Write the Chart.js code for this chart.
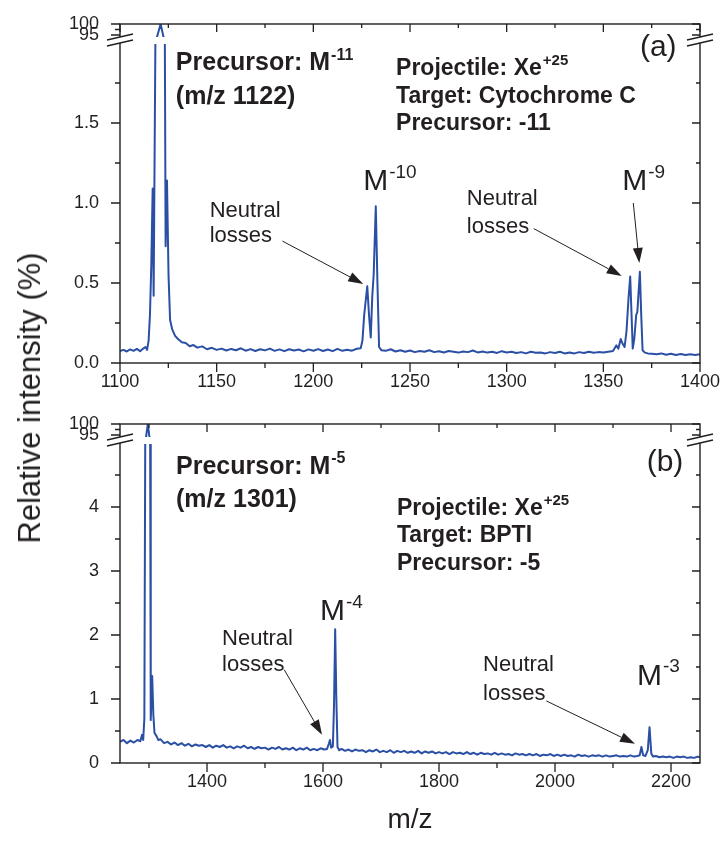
<!DOCTYPE html>
<html>
<head>
<meta charset="utf-8">
<script src="https://cdn.jsdelivr.net/npm/chart.js@4.4.1/dist/chart.umd.min.js"></script>
<style>
  body { margin: 0; background: #fff; }
  #wrap { position: relative; width: 720px; height: 843px; }
  #ca { position: absolute; left: 0; top: 0; }
  #cb { position: absolute; left: 0; top: 400px; }
  #ytitle {
    position: absolute; left: 30px; top: 398px;
    transform: translate(-50%, -50%) rotate(-90deg);
    white-space: nowrap; font: 31px "Liberation Sans", Arial, sans-serif; color: #231f20;
  }
</style>
</head>
<body>
<div id="wrap">
  <canvas id="ca" width="720" height="400"></canvas>
  <canvas id="cb" width="720" height="443"></canvas>
  <div id="ytitle">Relative intensity (%)</div>
</div>
<script>
// ---- panel (a) : Cytochrome C, precursor -11 ----
const xMajorA = [1100, 1150, 1200, 1250, 1300, 1350, 1400];
const xLabelsA = ['1100', '1150', '1200', '1250', '1300', '1350', '1400'];
const xMinorA = [1125, 1175, 1225, 1275, 1325, 1375];
const yMajorA = [0, 0.5, 1, 1.5, 95, 100];
const yLabelsA = ['0.0', '0.5', '1.0', '1.5', '95', '100'];
const yMinorA = [0.25, 0.75, 1.25, 1.75, 97.5];
const breakA = [2, 95];

const spectrumA = [
  [1100,0.075],[1101.8,0.082],[1103.5,0.072],[1105.2,0.085],[1107,0.076],[1108.7,0.088],[1110.4,0.074],
  [1112,0.09],[1113.2,0.1],[1114,0.082],[1114.8,0.14],[1115.5,0.3],[1116.2,0.62],[1116.9,1.09],
  [1117.4,0.42],[1118.3,2.0],[1121,100],[1123.2,2.0],[1123.6,0.73],[1124.3,1.14],[1125.1,0.55],
  [1125.9,0.27],[1127,0.21],[1128.5,0.17],[1130,0.15],[1132,0.13],[1134,0.125],[1136,0.105],
  [1138,0.112],[1140,0.096],[1142.5,0.104],[1145,0.086],[1147.5,0.095],[1150,0.082],[1152.5,0.09],
  [1155,0.078],[1157.5,0.088],[1160,0.08],[1162.5,0.092],[1165,0.077],[1167.5,0.087],[1170,0.075],
  [1172.5,0.086],[1175,0.079],[1177.5,0.09],[1180,0.076],[1182.5,0.085],[1185,0.074],[1187.5,0.086],
  [1190,0.078],[1192.5,0.084],[1195,0.073],[1197.5,0.085],[1200,0.077],[1202.5,0.087],[1205,0.075],
  [1207.5,0.084],[1210,0.074],[1212.5,0.088],[1215,0.076],[1217.5,0.083],[1220,0.077],[1222.5,0.089],
  [1224.5,0.092],[1225.4,0.14],[1226.3,0.3],[1227.9,0.48],[1228.8,0.3],[1229.7,0.16],[1230.5,0.42],
  [1231.2,0.55],[1232.3,0.98],[1233.2,0.48],[1234,0.1],[1235.2,0.08],[1237.5,0.076],[1240,0.086],
  [1242.5,0.072],[1245,0.08],[1247.5,0.07],[1250,0.078],[1252.5,0.068],[1255,0.075],[1257.5,0.07],
  [1260,0.08],[1262.5,0.068],[1265,0.074],[1267.5,0.066],[1270,0.075],[1272.5,0.07],[1275,0.065],
  [1277.5,0.072],[1280,0.068],[1282.5,0.078],[1285,0.066],[1287.5,0.072],[1290,0.065],[1292.5,0.07],
  [1295,0.063],[1297.5,0.074],[1300,0.066],[1302.5,0.07],[1305,0.062],[1307.5,0.068],[1310,0.06],
  [1312.5,0.07],[1315,0.064],[1317.5,0.066],[1320,0.06],[1322.5,0.068],[1325,0.062],[1327.5,0.07],
  [1330,0.06],[1332.5,0.066],[1335,0.06],[1337.5,0.068],[1340,0.062],[1342.5,0.07],[1345,0.064],
  [1347.5,0.068],[1350,0.065],[1352.5,0.07],[1355,0.075],[1356.7,0.11],[1357.8,0.09],[1359,0.15],
  [1360,0.12],[1361,0.1],[1362,0.2],[1363,0.4],[1363.9,0.54],[1364.6,0.3],[1365.2,0.09],[1366,0.15],
  [1367,0.3],[1367.6,0.32],[1368.9,0.57],[1369.6,0.3],[1370.3,0.08],[1371.5,0.065],[1373,0.06],
  [1375,0.058],[1377.5,0.055],[1380,0.06],[1382.5,0.052],[1385,0.058],[1387.5,0.05],[1390,0.056],
  [1392.5,0.05],[1395,0.055],[1397.5,0.05],[1400,0.054]
];

// ---- panel (b) : BPTI, precursor -5 ----
const xMajorB = [1400, 1600, 1800, 2000, 2200];
const xLabelsB = ['1400', '1600', '1800', '2000', '2200'];
const xMinorB = [1300, 1500, 1700, 1900, 2100];
const yMajorB = [0, 1, 2, 3, 4, 95, 100];
const yLabelsB = ['0', '1', '2', '3', '4', '95', '100'];
const yMinorB = [0.5, 1.5, 2.5, 3.5, 4.5, 97.5];
const breakB = [5, 95];

const spectrumB = [
  [1250,0.33],[1256,0.36],[1262,0.31],[1268,0.35],[1274,0.32],[1280,0.36],[1285,0.34],[1288,0.44],
  [1290,0.36],[1292,0.7],[1293.5,5],[1298,100],[1302,5],[1303,0.67],[1305.5,1.36],[1307.5,0.75],
  [1309.5,0.47],[1313,0.42],[1316,0.36],[1320,0.37],[1326,0.31],[1332,0.33],[1338,0.29],[1344,0.32],
  [1350,0.28],[1356,0.31],[1362,0.27],[1368,0.3],[1374,0.26],[1380,0.29],[1386,0.27],[1392,0.28],
  [1398,0.25],[1404,0.28],[1410,0.24],[1416,0.27],[1422,0.25],[1428,0.28],[1434,0.24],[1440,0.26],
  [1446,0.23],[1452,0.26],[1458,0.24],[1464,0.27],[1470,0.23],[1476,0.25],[1482,0.22],[1488,0.25],
  [1494,0.23],[1500,0.24],[1506,0.21],[1512,0.24],[1518,0.22],[1524,0.25],[1530,0.21],[1536,0.23],
  [1542,0.21],[1548,0.24],[1554,0.2],[1560,0.23],[1566,0.21],[1572,0.24],[1578,0.2],[1584,0.22],
  [1590,0.2],[1596,0.23],[1602,0.21],[1607,0.22],[1610,0.3],[1612,0.36],[1614,0.24],[1617,0.26],
  [1619,0.9],[1621,2.09],[1623,1.0],[1625,0.25],[1628,0.2],[1632,0.22],[1638,0.19],[1644,0.21],
  [1650,0.18],[1656,0.21],[1662,0.19],[1668,0.2],[1674,0.17],[1680,0.2],[1686,0.18],[1692,0.21],
  [1698,0.17],[1704,0.19],[1710,0.17],[1716,0.2],[1722,0.16],[1728,0.19],[1734,0.17],[1740,0.19],
  [1746,0.16],[1752,0.18],[1758,0.16],[1764,0.19],[1770,0.15],[1776,0.18],[1782,0.16],[1788,0.18],
  [1794,0.15],[1800,0.17],[1806,0.15],[1812,0.17],[1818,0.14],[1824,0.17],[1830,0.15],[1836,0.16],
  [1842,0.14],[1848,0.17],[1854,0.14],[1860,0.16],[1866,0.13],[1872,0.16],[1878,0.14],[1884,0.15],
  [1890,0.13],[1896,0.16],[1902,0.13],[1908,0.15],[1914,0.13],[1920,0.14],[1926,0.12],[1932,0.15],
  [1938,0.13],[1944,0.14],[1950,0.12],[1956,0.14],[1962,0.12],[1968,0.14],[1974,0.11],[1980,0.13],
  [1986,0.12],[1992,0.14],[1998,0.11],[2004,0.13],[2010,0.11],[2016,0.13],[2022,0.11],[2028,0.12],
  [2034,0.1],[2040,0.13],[2046,0.11],[2052,0.12],[2058,0.1],[2064,0.12],[2070,0.11],[2076,0.12],
  [2082,0.1],[2088,0.12],[2094,0.1],[2100,0.11],[2106,0.12],[2112,0.1],[2118,0.11],[2124,0.1],
  [2130,0.12],[2136,0.1],[2142,0.11],[2146,0.12],[2149,0.25],[2152,0.12],[2156,0.11],[2160,0.2],
  [2163,0.56],[2166,0.15],[2169,0.1],[2174,0.11],[2180,0.09],[2186,0.1],[2192,0.09],[2198,0.1],
  [2204,0.08],[2210,0.1],[2216,0.09],[2222,0.1],[2228,0.08],[2234,0.09],[2240,0.08],[2246,0.1],
  [2250,0.09]
];

const FONT = '"Liberation Sans", Arial, sans-serif';
const INK = '#231f20';
const BLUE = '#2a4fa5';
const PLOT_H = 339;   // chart area height in px
const LOW_H = 320;    // lower (linear) segment
const GAP_H = 8;      // the break

// y scale with a break: [0, low] below, [high, max] squeezed on top
class BrokenScale extends Chart.LinearScale {
  toDecimal(v) {
    const lo = this.options.brkLow, hi = this.options.brkHigh;
    const fl = LOW_H / PLOT_H, fg = GAP_H / PLOT_H;
    if (v <= lo) return v / lo * fl;
    if (v >= hi) return fl + fg + (v - hi) / (this.max - hi) * (1 - fl - fg);
    return fl + (v - lo) / (hi - lo) * fg;
  }
  getPixelForValue(v) {
    return this.getPixelForDecimal(this.toDecimal(v));
  }
  getValueForPixel(p) {
    const d = this.getDecimalForPixel(p);
    const lo = this.options.brkLow, hi = this.options.brkHigh;
    const fl = LOW_H / PLOT_H, fg = GAP_H / PLOT_H;
    if (d <= fl) return d / fl * lo;
    if (d >= fl + fg) return hi + (d - fl - fg) / (1 - fl - fg) * (this.max - hi);
    return lo + (d - fl) / fg * (hi - lo);
  }
}
BrokenScale.id = 'broken';
BrokenScale.defaults = {};
Chart.register(BrokenScale);

// --- helpers ---
function drawNote(ctx, n, xs, ys) {
  const px = xs.getPixelForValue(n.at[0]);
  const py = ys.getPixelForValue(n.at[1]);
  const w = n.bold ? 'bold ' : '';
  const supSize = Math.round(n.size * 0.64);
  ctx.font = `${w}${n.size}px ${FONT}`;
  const w1 = ctx.measureText(n.text).width;
  ctx.font = `${w}${supSize}px ${FONT}`;
  const w2 = n.sup ? ctx.measureText(n.sup).width : 0;
  let x0 = px;
  if (n.align === 'center') x0 = px - (w1 + w2) / 2;
  ctx.fillStyle = INK;
  ctx.textAlign = 'left';
  ctx.textBaseline = 'alphabetic';
  ctx.font = `${w}${n.size}px ${FONT}`;
  ctx.fillText(n.text, x0, py);
  if (n.sup) {
    ctx.font = `${w}${supSize}px ${FONT}`;
    ctx.fillText(n.sup, x0 + w1 + 1, py - n.size * 0.42);
  }
}

function drawArrow(ctx, a, xs, ys) {
  const x1 = xs.getPixelForValue(a.from[0]), y1 = ys.getPixelForValue(a.from[1]);
  const x2 = xs.getPixelForValue(a.to[0]), y2 = ys.getPixelForValue(a.to[1]);
  const ang = Math.atan2(y2 - y1, x2 - x1);
  const L = 15, W = 5;
  const bx = x2 - L * Math.cos(ang), by = y2 - L * Math.sin(ang);
  ctx.strokeStyle = INK; ctx.fillStyle = INK; ctx.lineWidth = 1;
  ctx.beginPath(); ctx.moveTo(x1, y1); ctx.lineTo(bx, by); ctx.stroke();
  ctx.beginPath();
  ctx.moveTo(x2, y2);
  ctx.lineTo(bx + W * Math.sin(ang), by - W * Math.cos(ang));
  ctx.lineTo(bx - W * Math.sin(ang), by + W * Math.cos(ang));
  ctx.closePath(); ctx.fill();
}

function breakMark(ctx, ax, yU, yL) {
  const w = 13, d = 3;
  ctx.fillStyle = '#fff';
  ctx.beginPath();
  ctx.moveTo(ax - w, yU + d); ctx.lineTo(ax + w, yU - d);
  ctx.lineTo(ax + w, yL - d); ctx.lineTo(ax - w, yL + d);
  ctx.closePath(); ctx.fill();
  ctx.beginPath();
  ctx.moveTo(ax - w, yU + d); ctx.lineTo(ax + w, yU - d);
  ctx.moveTo(ax - w, yL + d); ctx.lineTo(ax + w, yL - d);
  ctx.stroke();
}

function decor(cfg) {
  return {
    id: 'decor',
    afterDatasetsDraw(chart) {
      const { ctx, chartArea: a, scales: { y } } = chart;
      const yHi = y.getPixelForValue(cfg.brk[1]);
      const yLo = y.getPixelForValue(cfg.brk[0]);
      ctx.save();
      ctx.fillStyle = '#fff';
      ctx.fillRect(a.left, yHi + 2, a.right - a.left, yLo - yHi - 1);
      ctx.restore();
    },
    afterDraw(chart) {
      const { ctx, chartArea: a, scales: { x, y } } = chart;
      ctx.save();
      ctx.strokeStyle = INK;
      ctx.lineWidth = 1.4;
      ctx.strokeRect(a.left, a.top, a.right - a.left, a.bottom - a.top);

      // tick marks: out on left/bottom, in on right/top
      ctx.lineWidth = 1.3;
      ctx.beginPath();
      const xt = (vals, out, inn) => vals.forEach(v => {
        const p = x.getPixelForValue(v);
        ctx.moveTo(p, a.bottom); ctx.lineTo(p, a.bottom + out);
        ctx.moveTo(p, a.top); ctx.lineTo(p, a.top + inn);
      });
      const yt = (vals, out, inn) => vals.forEach(v => {
        const p = y.getPixelForValue(v);
        ctx.moveTo(a.left, p); ctx.lineTo(a.left - out, p);
        ctx.moveTo(a.right, p); ctx.lineTo(a.right - inn, p);
      });
      xt(cfg.xMajor, 9, 8); xt(cfg.xMinor, 5, 4);
      yt(cfg.yMajor, 9, 8); yt(cfg.yMinor, 5, 4);
      ctx.stroke();

      // axis breaks
      const yU = y.getPixelForValue(cfg.brk[1]) + 2;
      const yL = y.getPixelForValue(cfg.brk[0]);
      ctx.lineWidth = 1.3;
      breakMark(ctx, a.left, yU, yL);
      breakMark(ctx, a.right, yU, yL);

      cfg.notes.forEach(n => drawNote(ctx, n, x, y));
      cfg.arrows.forEach(ar => drawArrow(ctx, ar, x, y));
      ctx.restore();
    }
  };
}

function makeChart(id, cfg) {
  const tickFont = { family: FONT, size: 18 };
  return new Chart(document.getElementById(id), {
    type: 'line',
    data: {
      datasets: [{
        data: cfg.spectrum.map(([mz, v]) => ({ x: mz, y: v })),
        borderColor: BLUE,
        borderWidth: 2,
        pointRadius: 0,
        tension: 0,
        fill: false,
        borderJoinStyle: 'round'
      }]
    },
    options: {
      responsive: false,
      animation: false,
      events: [],
      parsing: false,
      layout: { padding: { left: 0, right: 20, top: 24, bottom: 0 } },
      plugins: { legend: { display: false }, tooltip: { enabled: false } },
      scales: {
        x: {
          type: 'linear', min: cfg.xRange[0], max: cfg.xRange[1],
          grid: { display: false, drawTicks: false }, border: { display: false },
          afterBuildTicks: s => { s.ticks = cfg.xMajor.map(v => ({ value: v })); },
          afterFit: s => {
            s.height = cfg.xAxisH;
            s.paddingLeft = 0; s.paddingRight = 0;
          },
          ticks: {
            autoSkip: false, maxRotation: 0, padding: 8, color: INK, font: tickFont,
            callback: (v, i) => cfg.xLabels[i]
          },
          title: cfg.xTitle ? {
            display: true, text: cfg.xTitle, color: INK,
            font: { family: FONT, size: 28 }, padding: { top: 0, bottom: 6 }
          } : { display: false }
        },
        y: {
          type: 'broken', min: 0, max: 100,
          brkLow: cfg.brk[0], brkHigh: cfg.brk[1],
          grid: { display: false, drawTicks: false }, border: { display: false },
          afterBuildTicks: s => { s.ticks = cfg.yMajor.map(v => ({ value: v })); },
          afterFit: s => {
            s.width = 120;
            s.paddingTop = 0; s.paddingBottom = 0;
          },
          ticks: {
            autoSkip: false, padding: 21, color: INK, font: tickFont,
            callback: (v, i) => cfg.yLabels[i]
          }
        }
      }
    },
    plugins: [decor(cfg)]
  });
}

makeChart('ca', {
  spectrum: spectrumA, xRange: [1100, 1400], xAxisH: 37,
  xMajor: xMajorA, xLabels: xLabelsA, xMinor: xMinorA,
  yMajor: yMajorA, yLabels: yLabelsA, yMinor: yMinorA, brk: breakA,
  notes: [
    { at: [1128.9, 1.83], text: 'Precursor: M', sup: '-11', size: 25, bold: true },
    { at: [1128.9, 1.62], text: '(m/z 1122)', size: 25, bold: true },
    { at: [1242.8, 1.80], text: 'Projectile: Xe', sup: '+25', size: 23, bold: true },
    { at: [1242.8, 1.625], text: 'Target: Cytochrome C', size: 23, bold: true },
    { at: [1242.8, 1.455], text: 'Precursor: -11', size: 23, bold: true },
    { at: [1378.4, 1.92], text: '(a)', size: 30, align: 'center' },
    { at: [1225.8, 1.08], text: 'M', sup: '-10', size: 30 },
    { at: [1146.4, 0.91], text: 'Neutral', size: 22 },
    { at: [1146.4, 0.755], text: 'losses', size: 22 },
    { at: [1279.4, 0.985], text: 'Neutral', size: 22 },
    { at: [1279.4, 0.815], text: 'losses', size: 22 },
    { at: [1359.8, 1.08], text: 'M', sup: '-9', size: 30 }
  ],
  arrows: [
    { from: [1184, 0.762], to: [1225.8, 0.494] },
    { from: [1314, 0.84], to: [1359.5, 0.544] },
    { from: [1365.5, 1.0], to: [1368.6, 0.625] }
  ]
});

makeChart('cb', {
  spectrum: spectrumB, xRange: [1250, 2250], xAxisH: 80, xTitle: 'm/z',
  xMajor: xMajorB, xLabels: xLabelsB, xMinor: xMinorB,
  yMajor: yMajorB, yLabels: yLabelsB, yMinor: yMinorB, brk: breakB,
  notes: [
    { at: [1346.6, 4.52], text: 'Precursor: M', sup: '-5', size: 25, bold: true },
    { at: [1346.6, 4.0], text: '(m/z 1301)', size: 25, bold: true },
    { at: [1727.6, 3.88], text: 'Projectile: Xe', sup: '+25', size: 23, bold: true },
    { at: [1727.6, 3.45], text: 'Target: BPTI', size: 23, bold: true },
    { at: [1727.6, 3.02], text: 'Precursor: -5', size: 23, bold: true },
    { at: [2189.7, 4.56], text: '(b)', size: 30, align: 'center' },
    { at: [1594.8, 2.23], text: 'M', sup: '-4', size: 30 },
    { at: [1425.9, 1.85], text: 'Neutral', size: 22 },
    { at: [1425.9, 1.43], text: 'losses', size: 22 },
    { at: [1875.9, 1.43], text: 'Neutral', size: 22 },
    { at: [1875.9, 0.99], text: 'losses', size: 22 },
    { at: [2141.4, 1.22], text: 'M', sup: '-3', size: 30 }
  ],
  arrows: [
    { from: [1533, 1.46], to: [1598.3, 0.44] },
    { from: [1985, 0.97], to: [2137.9, 0.3] }
  ]
});
</script>
</body>
</html>
